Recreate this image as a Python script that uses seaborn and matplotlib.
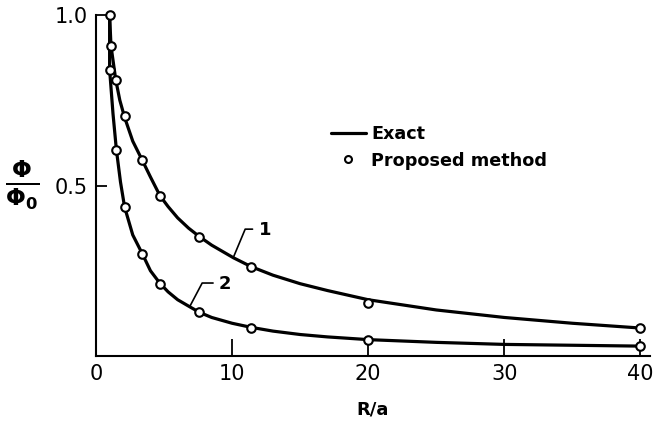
import matplotlib
matplotlib.use("Agg")
import pandas as pd
import seaborn as sns
from matplotlib import pyplot as plt
from matplotlib.lines import Line2D

# Exact curves
exact1_x = [1.0, 1.1, 1.45, 1.75, 2.1, 2.7, 3.4, 4.0, 4.7, 5.3, 6.0, 6.8, 7.6, 8.5,
            10.1, 11.4, 13, 15, 17, 20, 25, 30, 35, 40]
exact1_y = [1.0, 0.91, 0.81, 0.75, 0.70, 0.63, 0.574, 0.525, 0.47, 0.438, 0.405, 0.375, 0.35, 0.325,
            0.288, 0.262, 0.237, 0.212, 0.192, 0.165, 0.135, 0.113, 0.096, 0.082]
exact2_x = [1.0, 1.0, 1.25, 1.5, 1.8, 2.1, 2.7, 3.4, 4.0, 4.7, 5.3, 6.0, 6.9, 7.6, 8.5,
            10, 11.4, 13, 15, 17, 20, 25, 30, 40]
exact2_y = [1.0, 0.84, 0.71, 0.604, 0.51, 0.437, 0.355, 0.30, 0.25, 0.213, 0.188, 0.165, 0.144, 0.128, 0.113,
            0.096, 0.084, 0.073, 0.063, 0.056, 0.048, 0.04, 0.034, 0.029]

# Proposed method points
prop1_x = [1.0, 1.1, 1.45, 2.1, 3.4, 4.7, 7.6, 11.4, 20, 40]
prop1_y = [1.0, 0.91, 0.81, 0.705, 0.574, 0.47, 0.35, 0.26, 0.155, 0.082]
prop2_x = [1.0, 1.5, 2.1, 3.4, 4.7, 7.6, 11.4, 20, 40]
prop2_y = [0.84, 0.604, 0.437, 0.30, 0.21, 0.128, 0.082, 0.047, 0.029]

x_ticks = [0, 10, 20, 30, 40]
y_ticks = [0.5, 1.0]
y_tick_labels = ["0.5", "1.0"]

sns.set_style("ticks", {"text.color": "black", "axes.labelcolor": "black",
                        "xtick.color": "black", "ytick.color": "black",
                        "axes.edgecolor": "black"})
plt.rcParams["font.family"] = ["DejaVu Sans"]

fig = plt.figure(figsize=(6.55, 4.26), dpi=100)
ax = fig.add_axes([96 / 655, 1 - 356 / 426, (650 - 96) / 655, (356 - 15) / 426])

df_exact = pd.concat([
    pd.DataFrame({"x": exact1_x, "y": exact1_y, "curve": "1"}),
    pd.DataFrame({"x": exact2_x, "y": exact2_y, "curve": "2"}),
])
df_prop = pd.concat([
    pd.DataFrame({"x": prop1_x, "y": prop1_y, "curve": "1"}),
    pd.DataFrame({"x": prop2_x, "y": prop2_y, "curve": "2"}),
])

sns.lineplot(data=df_exact, x="x", y="y", units="curve", estimator=None, sort=False,
             color="black", linewidth=2.3, ax=ax, legend=False)
sns.scatterplot(data=df_prop, x="x", y="y", color="white", edgecolor="black",
                linewidth=1.5, s=38, zorder=5, ax=ax, legend=False, clip_on=False)

ax.set_xlim(0, 40.7)
ax.set_ylim(0, 1.0)
ax.set_xticks(x_ticks)
ax.set_xticklabels([str(t) for t in x_ticks])
ax.set_yticks(y_ticks)
ax.set_yticklabels(y_tick_labels)
ax.tick_params(axis="x", direction="in", length=12, width=1.3, labelsize=15, pad=6)
ax.tick_params(axis="y", direction="in", length=8, width=1.3, labelsize=15, pad=6)
for side in ["left", "bottom"]:
    ax.spines[side].set_linewidth(1.5)
sns.despine(ax=ax)

ax.set_xlabel("R/a", fontsize=13, fontweight="bold", labelpad=12)
ax.set_ylabel("")
fig.text(22 / 655, 1 - 185 / 426, r"$\mathbf{\frac{\Phi}{\Phi_0}}$", fontsize=24,
         ha="center", va="center")

# curve labels with leader lines
ax.plot([10.1, 10.96, 11.5], [0.29, 0.372, 0.372], color="black", lw=1.2)
ax.text(12.0, 0.37, "1", fontsize=13, fontweight="bold", va="center")
ax.plot([6.9, 7.8, 8.6], [0.146, 0.214, 0.214], color="black", lw=1.2)
ax.text(9.0, 0.21, "2", fontsize=13, fontweight="bold", va="center")

handles = [
    Line2D([], [], color="black", linewidth=2.3),
    Line2D([], [], color="black", marker="o", markerfacecolor="white",
           markeredgewidth=1.5, markersize=5, linestyle="none"),
]
ax.legend(handles, ["Exact", "Proposed method"], frameon=False,
          loc="upper left", bbox_to_anchor=(322 / 655, 1 - 116 / 426),
          bbox_transform=fig.transFigure, borderpad=0, handlelength=2.0,
          handletextpad=0.3, labelspacing=0.5,
          prop={"weight": "bold", "size": 12.7})

fig.savefig("out.png", dpi=100)
